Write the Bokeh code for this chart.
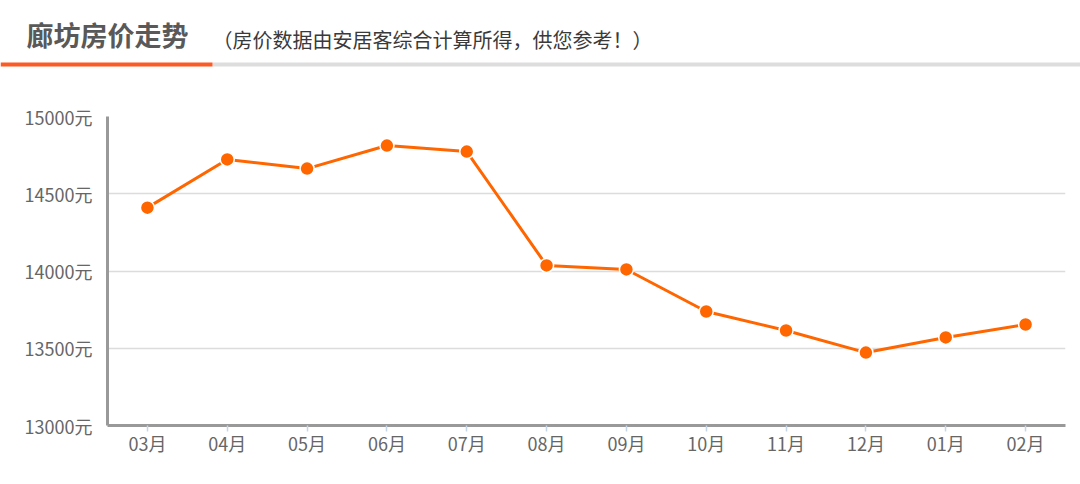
from bokeh.plotting import figure
from bokeh.layouts import column, row
from bokeh.models import Range1d, FactorRange, FixedTicker
from bokeh.core.properties import value
from bokeh.embed import file_html
from bokeh.resources import INLINE

# ---- data ----
months = ["03月", "04月", "05月", "06月", "07月", "08月", "09月", "10月", "11月", "12月", "01月", "02月"]
prices = [14410, 14722, 14663, 14812, 14773, 14036, 14010, 13738, 13615, 13472, 13570, 13654]
y_ticks = [13000, 13500, 14000, 14500, 15000]
y_tick_labels = ["13000元", "13500元", "14000元", "14500元", "15000元"]
title_text = "廊坊房价走势"
subtitle_text = "（房价数据由安居客综合计算所得，供您参考！）"

FONT = "Noto Sans CJK SC"
W = 1080

# ---- header (data coords == window pixels) ----
head = figure(width=W, height=100, output_backend="svg", toolbar_location=None,
              x_range=Range1d(0, W), y_range=Range1d(100, 0),
              x_axis_location=None, y_axis_location=None,
              min_border=0, min_border_left=0, min_border_right=0,
              min_border_top=0, min_border_bottom=0)
head.grid.visible = False
head.outline_line_color = None
head.text(x=[26], y=[34], text=[title_text], text_baseline="middle", text_align="left",
          text_font=value(FONT), text_font_style="bold", text_font_size="27px",
          text_color="#595959")
head.text(x=[212], y=[39], text=[subtitle_text], text_baseline="middle", text_align="left",
          text_font=value(FONT), text_font_size="20px", text_color="#3a3a3a")
head.segment(x0=[212], y0=[64], x1=[W], y1=[64], line_color="#dddddd", line_width=4)
head.segment(x0=[0], y0=[64], x1=[212], y1=[64], line_color="#fe5b24", line_width=4)

# ---- chart ----
p = figure(width=W, height=384, output_backend="svg", toolbar_location=None,
           x_range=FactorRange(*months, range_padding=0), y_range=Range1d(13000, 15000),
           min_border_left=107, min_border_right=15, min_border_top=16, min_border_bottom=59)
p.outline_line_color = None
p.xgrid.visible = False
p.ygrid.grid_line_color = "#dcdcdc"
p.ygrid.grid_line_width = 1.5
p.ygrid.ticker = FixedTicker(ticks=y_ticks)

p.yaxis.ticker = FixedTicker(ticks=y_ticks)
p.yaxis.major_label_overrides = {t: l for t, l in zip(y_ticks, y_tick_labels)}
p.yaxis.major_tick_line_color = None
p.yaxis.minor_tick_line_color = None
p.yaxis.major_label_standoff = 9
p.yaxis.axis_line_color = "#999999"
p.yaxis.axis_line_width = 3

p.xaxis.axis_line_color = "#999999"
p.xaxis.axis_line_width = 3
p.xaxis.major_tick_line_color = "#c5d6e8"
p.xaxis.major_tick_line_width = 1.5
p.xaxis.major_tick_out = 6
p.xaxis.major_tick_in = 0
p.xaxis.major_label_standoff = -2

for ax in (p.xaxis[0], p.yaxis[0]):
    ax.major_label_text_font = FONT
    ax.major_label_text_font_size = "18px"
    ax.major_label_text_color = "#666666"

p.line(x=months, y=prices, line_color="#ff6600", line_width=3)
p.scatter(x=months, y=prices, size=14, fill_color="#ff6600", line_color="white", line_width=1.5)

layout = column(row(head), row(p), spacing=0)
open("out.html", "w").write(file_html(layout, INLINE))
